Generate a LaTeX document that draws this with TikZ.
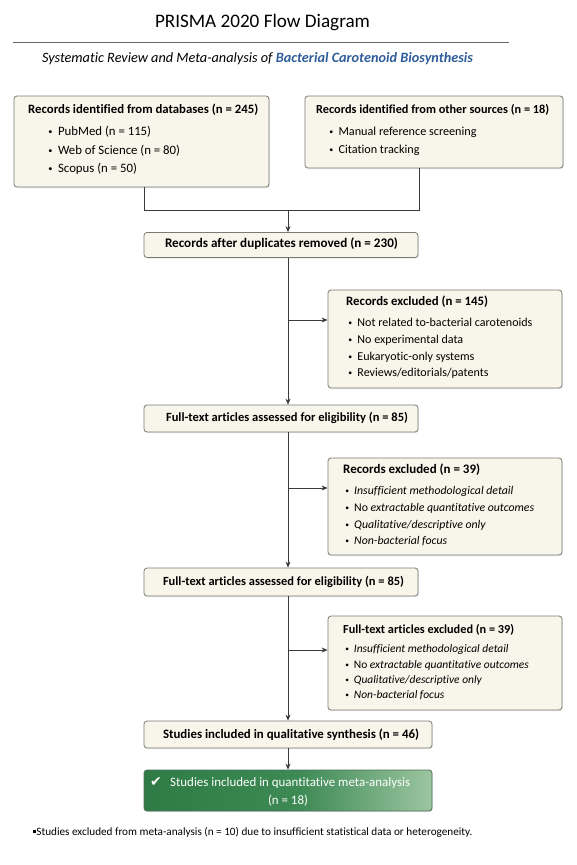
\documentclass[tikz,border=0pt]{standalone}
\usepackage{graphicx}
\usepackage{fontspec}
\setmainfont{Carlito}[Ligatures={NoCommon}]
\newfontfamily\symfont{DejaVu Sans}
\usetikzlibrary{arrows.meta,shadows}
\definecolor{cream}{HTML}{F8F6EA}
\definecolor{boxgray}{HTML}{7A7A76}
\definecolor{linegray}{HTML}{3A3A3A}
\definecolor{titleblue}{HTML}{2F5D9A}
\definecolor{gA}{HTML}{2E7B46}
\definecolor{gB}{HTML}{3E8A55}
\definecolor{gC}{HTML}{9CC5A0}
\definecolor{gborder}{HTML}{4F6F58}
\pgfdeclarehorizontalshading{greenshade}{100bp}{color(0bp)=(gA); color(25bp)=(gA); color(52bp)=(gB); color(75bp)=(gC); color(100bp)=(gC)}
\newlength\calw
% \calib{\macro}{target width in pt}{sample text}: font size giving that width
\newcommand{\calib}[3]{\settowidth{\calw}{\fontsize{10}{12}\selectfont #3}\pgfmathsetmacro#1{10*#2/\calw}}
\newcommand{\fs}[1]{\fontsize{#1}{#1}\selectfont}
\newcommand{\bul}{\makebox[0.85em][l]{\hspace{0.1em}\raisebox{0.08em}{\scalebox{0.65}{\textbullet}}}}
\begin{document}
\calib{\sT}{215}{PRISMA 2020 Flow Diagram}%
\calib{\sS}{431}{\itshape Systematic Review and Meta-analysis of \bfseries Bacterial Carotenoid Biosynthesis}%
\calib{\sHa}{230}{\bfseries Records identified from databases (n = 245)}%
\calib{\sIa}{122}{Web of Science (n = 80)}%
\calib{\sHb}{233}{\bfseries Records identified from other sources (n = 18)}%
\calib{\sIb}{138}{Manual reference screening}%
\calib{\sHc}{233}{\bfseries Records after duplicates removed (n = 230)}%
\calib{\sHd}{142}{\bfseries Records excluded (n = 145)}%
\calib{\sId}{175}{Not related to-bacterial carotenoids}%
\calib{\sHe}{242}{\bfseries Full-text articles assessed for eligibility (n = 85)}%
\calib{\sHf}{137}{\bfseries Records excluded (n = 39)}%
\calib{\sIf}{180}{No \itshape extractable quantitative outcomes}%
\calib{\sHg}{241}{\bfseries Full-text articles assessed for eligibility (n = 85)}%
\calib{\sHh}{171}{\bfseries Full-text articles excluded (n = 39)}%
\calib{\sIh}{175}{No \itshape extractable quantitative outcomes}%
\calib{\sHi}{256}{\bfseries Studies included in qualitative synthesis (n = 46)}%
\calib{\sIj}{240}{Studies included in quantitative meta-analysis}%
\calib{\sF}{436}{Studies excluded from meta-analysis (n = 10) due to insufficient statistical data or heterogeneity.}%
\begin{tikzpicture}[x=1pt,y=-1pt,
  box/.style={draw=boxgray, line width=0.8pt, fill=cream, rounded corners=3pt, inner sep=0pt,
    drop shadow={opacity=0.18, shadow xshift=0.8pt, shadow yshift=-1pt}},
  txt/.style={inner sep=0pt, text height=0.72em, text depth=0.22em},
  conn/.style={draw=linegray, line width=0.8pt},
  arr/.style={conn, -{Stealth[length=6pt,width=5pt]}}
]
\useasboundingbox (0,0) rectangle (577,865);
% title
\node[txt, font=\fs{\sT}] (title) at (262.5,25) {PRISMA 2020 Flow Diagram};
\draw[draw=gray!80!black, line width=0.8pt] (13,42) -- (509,42);
\node[txt, font=\fs{\sS}\itshape] (sub) at (257.5,60) {Systematic Review and Meta-analysis of \textcolor{titleblue}{\bfseries Bacterial Carotenoid Biosynthesis}};
% boxes
\node[box, minimum width=255pt, minimum height=91pt] (b1) at (141.5,141.5) {};
\node[box, minimum width=258pt, minimum height=72pt] (b2) at (434,132) {};
\node[box, minimum width=274pt, minimum height=25pt] (b3) at (281,245) {};
\node[box, minimum width=234pt, minimum height=98pt] (b4) at (445,339) {};
\node[box, minimum width=274pt, minimum height=27pt] (b5) at (281,418.5) {};
\node[box, minimum width=234pt, minimum height=97pt] (b6) at (445,506.5) {};
\node[box, minimum width=274pt, minimum height=28pt] (b7) at (281,582) {};
\node[box, minimum width=234pt, minimum height=94pt] (b8) at (445,663) {};
\node[box, minimum width=288pt, minimum height=27pt] (b9) at (288,734.5) {};
\node[draw=gborder, line width=0.8pt, shading=greenshade, rounded corners=3pt, inner sep=0pt,
  minimum width=288pt, minimum height=41pt,
  drop shadow={opacity=0.18, shadow xshift=0.8pt, shadow yshift=-1pt}] (b10) at (288,790.5) {};
% box 1 text
\node[txt, font=\fs{\sHa}\bfseries, anchor=west] (b1h) at (28,111) {Records identified from databases (n = 245)};
\node[txt, font=\fs{\sIa}, anchor=west] (b1a) at (47,133) {\bul PubMed (n = 115)};
\node[txt, font=\fs{\sIa}, anchor=west] (b1b) at (47,152) {\bul Web of Science (n = 80)};
\node[txt, font=\fs{\sIa}, anchor=west] (b1c) at (47,170) {\bul Scopus (n = 50)};
% box 2 text
\node[txt, font=\fs{\sHb}\bfseries, anchor=west] (b2h) at (316,111) {Records identified from other sources (n = 18)};
\node[txt, font=\fs{\sIb}, anchor=west] (b2a) at (328,133) {\bul Manual reference screening};
\node[txt, font=\fs{\sIb}, anchor=west] (b2b) at (328,151) {\bul Citation tracking};
% box 3
\node[txt, font=\fs{\sHc}\bfseries] (b3t) at (281.5,245) {Records after duplicates removed (n = 230)};
% box 4
\node[txt, font=\fs{\sHd}\bfseries, anchor=west] (b4h) at (346,303) {Records excluded (n = 145)};
\node[txt, font=\fs{\sId}, anchor=west] (b4a) at (347,324) {\bul Not related to-bacterial carotenoids};
\node[txt, font=\fs{\sId}, anchor=west] (b4b) at (347,341) {\bul No experimental data};
\node[txt, font=\fs{\sId}, anchor=west] (b4c) at (347,357.5) {\bul Eukaryotic-only systems};
\node[txt, font=\fs{\sId}, anchor=west] (b4d) at (347,374) {\bul Reviews/editorials/patents};
% box 5
\node[txt, font=\fs{\sHe}\bfseries] (b5t) at (287,419) {Full-text articles assessed for eligibility (n = 85)};
% box 6
\node[txt, font=\fs{\sHf}\bfseries, anchor=west] (b6h) at (343,471) {Records excluded (n = 39)};
\node[txt, font=\fs{\sIf}, anchor=west] (b6a) at (344,492) {\bul\itshape Insufficient methodological detail};
\node[txt, font=\fs{\sIf}, anchor=west] (b6b) at (344,509) {\bul No \itshape extractable quantitative outcomes};
\node[txt, font=\fs{\sIf}, anchor=west] (b6c) at (344,526) {\bul\itshape Qualitative/descriptive only};
\node[txt, font=\fs{\sIf}, anchor=west] (b6d) at (344,542) {\bul\itshape Non-bacterial focus};
% box 7
\node[txt, font=\fs{\sHg}\bfseries] (b7t) at (283.5,583) {Full-text articles assessed for eligibility (n = 85)};
% box 8
\node[txt, font=\fs{\sHh}\bfseries, anchor=west] (b8h) at (343,631) {Full-text articles excluded (n = 39)};
\node[txt, font=\fs{\sIh}, anchor=west] (b8a) at (344,650) {\bul\itshape Insufficient methodological detail};
\node[txt, font=\fs{\sIh}, anchor=west] (b8b) at (344,666) {\bul No \itshape extractable quantitative outcomes};
\node[txt, font=\fs{\sIh}, anchor=west] (b8c) at (344,681) {\bul\itshape Qualitative/descriptive only};
\node[txt, font=\fs{\sIh}, anchor=west] (b8d) at (344,696) {\bul\itshape Non-bacterial focus};
% box 9
\node[txt, font=\fs{\sHi}\bfseries] (b9t) at (291,736) {Studies included in qualitative synthesis (n = 46)};
% box 10
\node[txt, text=white, font=\fs{14}\symfont] (chk) at (156,784) {✔};
\node[txt, text=white, font=\fs{\sIj}, anchor=west] (b10a) at (170,784) {Studies included in quantitative meta-analysis};
\node[txt, text=white, font=\fs{\sIj}] (b10b) at (288,802) {(n = 18)};
% footnote
\node[txt, anchor=west, font=\fs{\sF}] (foot) at (33,833) {\raisebox{0.18em}{\rule{3.2pt}{3.2pt}}Studies excluded from meta-analysis (n = 10) due to insufficient statistical data or heterogeneity.};
% connectors
\coordinate (m1) at (288,210);
\coordinate (l1) at (144,210);
\coordinate (r1) at (419,210);
\draw[conn] (b1.south -| l1) -- (l1) -- (r1) -- (b2.south -| r1);
\draw[arr] (m1) -- (b3.north -| m1);
\draw[arr] (b3.south -| m1) -- (b5.north -| m1);
\coordinate (j1) at (288,320);
\draw[arr] (j1) -- (b4.west |- j1);
\draw[arr] (b5.south -| m1) -- (b7.north -| m1);
\coordinate (j2) at (288,488);
\draw[arr] (j2) -- (b6.west |- j2);
\draw[arr] (b7.south -| m1) -- (b9.north -| m1);
\coordinate (j3) at (288,650);
\draw[arr] (j3) -- (b8.west |- j3);
\draw[arr] (b9.south) -- (b10.north);
\end{tikzpicture}
\end{document}
